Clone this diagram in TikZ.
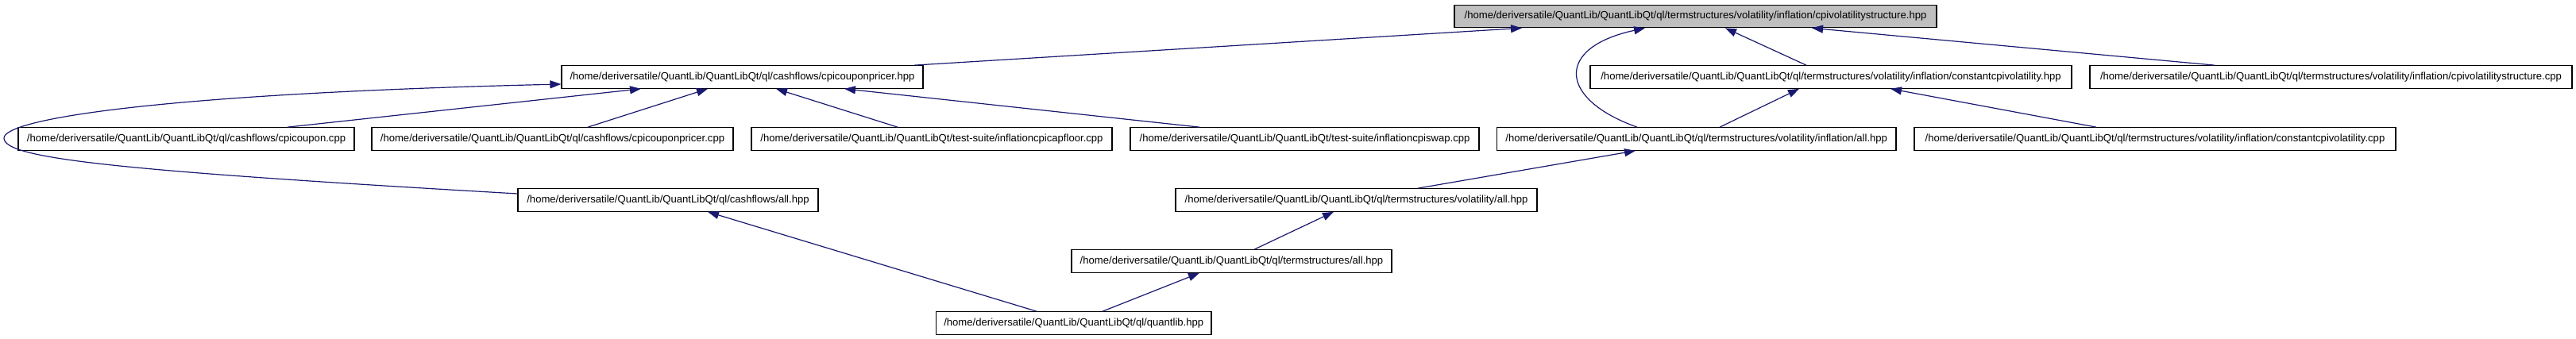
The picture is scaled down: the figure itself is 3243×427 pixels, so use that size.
\documentclass[tikz,border=0pt]{standalone}
\usepackage{fontspec}
\setmainfont{Liberation Sans}
\usetikzlibrary{arrows.meta}
\definecolor{edgeblue}{HTML}{191970}
\definecolor{topfill}{HTML}{BFBFBF}
\begin{document}
\begin{tikzpicture}[x=1pt,y=-1pt,
  file/.style={draw=black, line width=1.2pt, fill=white, minimum height=28.5pt, inner sep=0pt,
    text height=9.5pt, text depth=2.8pt, font=\fontsize{13.1}{15}\selectfont},
  dep/.style={draw=edgeblue, line width=1.2pt, -{Triangle[length=14pt,width=10pt]}}
]
\useasboundingbox (0,0) rectangle (3243,427);
% row 1
\node[file, fill=topfill, minimum width=607pt] (top) at (2134.5,20.5) {/home/deriversatile/QuantLib/QuantLibQt/ql/termstructures/volatility/inflation/cpivolatilitystructure.hpp};
% row 2
\node[file, minimum width=455pt] (cprh) at (934.5,97) {/home/deriversatile/QuantLib/QuantLibQt/ql/cashflows/cpicouponpricer.hpp};
\node[file, minimum width=606pt] (ccvh) at (2305,97) {/home/deriversatile/QuantLib/QuantLibQt/ql/termstructures/volatility/inflation/constantcpivolatility.hpp};
\node[file, minimum width=607pt] (cvsc) at (2934.5,97) {/home/deriversatile/QuantLib/QuantLibQt/ql/termstructures/volatility/inflation/cpivolatilitystructure.cpp};
% row 3
\node[file, minimum width=423pt] (cpc) at (234.5,175) {/home/deriversatile/QuantLib/QuantLibQt/ql/cashflows/cpicoupon.cpp};
\node[file, minimum width=455pt] (cprc) at (695.5,175) {/home/deriversatile/QuantLib/QuantLibQt/ql/cashflows/cpicouponpricer.cpp};
\node[file, minimum width=454pt] (capf) at (1173,175) {/home/deriversatile/QuantLib/QuantLibQt/test-suite/inflationcpicapfloor.cpp};
\node[file, minimum width=439pt] (swap) at (1642.5,175) {/home/deriversatile/QuantLib/QuantLibQt/test-suite/inflationcpiswap.cpp};
\node[file, minimum width=502.5pt] (infall) at (2135.75,175) {/home/deriversatile/QuantLib/QuantLibQt/ql/termstructures/volatility/inflation/all.hpp};
\node[file, minimum width=606pt] (ccvc) at (2713,175) {/home/deriversatile/QuantLib/QuantLibQt/ql/termstructures/volatility/inflation/constantcpivolatility.cpp};
% row 4
\node[file, minimum width=378pt] (cfall) at (841,252) {/home/deriversatile/QuantLib/QuantLibQt/ql/cashflows/all.hpp};
\node[file, minimum width=455pt] (volall) at (1707.5,252) {/home/deriversatile/QuantLib/QuantLibQt/ql/termstructures/volatility/all.hpp};
% row 5
\node[file, minimum width=403pt] (tsall) at (1550.5,329) {/home/deriversatile/QuantLib/QuantLibQt/ql/termstructures/all.hpp};
% row 6
\node[file, minimum width=346.5pt] (ql) at (1351.75,407) {/home/deriversatile/QuantLib/QuantLibQt/ql/quantlib.hpp};

% edges
\draw[dep] ([xshift=216.5pt]cprh.north) -- ([xshift=-218.5pt]top.south);
\draw[dep] ([xshift=-31pt]ccvh.north) -- ([xshift=37.5pt]top.south);
\draw[dep] ([xshift=-146.5pt]cvsc.north) -- ([xshift=146.5pt]top.south);
\draw[dep] ([xshift=-74.75pt]infall.north) .. controls (1962,125) and (1957,60) .. ([xshift=-63.5pt]top.south);
\draw[dep] ([xshift=127.5pt]cpc.north) -- ([xshift=-127.5pt]cprh.south);
\draw[dep] ([xshift=44.5pt]cprc.north) -- ([xshift=-43.5pt]cprh.south);
\draw[dep] ([xshift=-43pt]capf.north) -- ([xshift=42.5pt]cprh.south);
\draw[dep] ([xshift=-132.5pt]swap.north) -- ([xshift=128.5pt]cprh.south);
\coordinate (loopleft) at (5,174);
\draw[dep] ([yshift=8pt]cfall.west) .. controls (150,215) and (5,200) .. (loopleft)
  .. controls (5,150) and (200,118) .. ([yshift=-9pt]cprh.west);
\draw[dep] ([xshift=29.25pt]infall.north) -- ([xshift=-40pt]ccvh.south);
\draw[dep] ([xshift=-74pt]ccvc.north) -- ([xshift=75pt]ccvh.south);
\draw[dep] ([xshift=77.5pt]volall.north) -- ([xshift=-76.75pt]infall.south);
\draw[dep] ([xshift=28.5pt]tsall.north) -- ([xshift=-28.5pt]volall.south);
\draw[dep] ([xshift=36.25pt]ql.north) -- ([xshift=-40.5pt]tsall.south);
\draw[dep] ([xshift=-46.75pt]ql.north) -- ([xshift=50pt]cfall.south);
\end{tikzpicture}
\end{document}
